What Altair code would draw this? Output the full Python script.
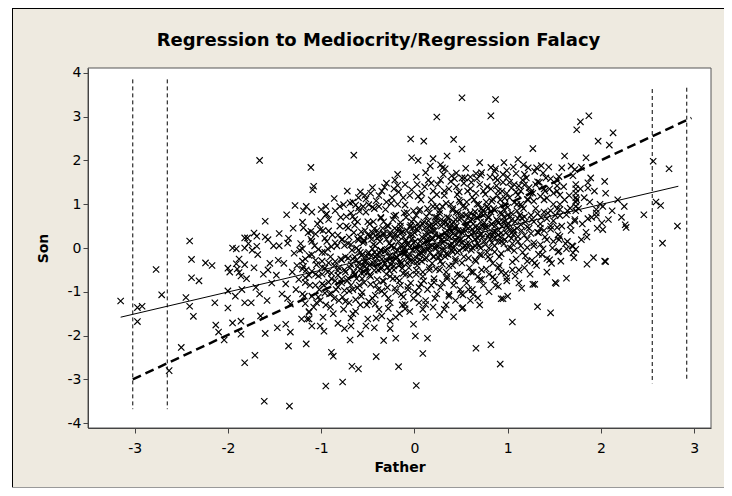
import altair as alt
import pandas as pd

# ---------------- data ----------------
left_tail = [(-3.15,-1.21),(-2.97,-1.36),(-2.92,-1.33),(-2.97,-1.68),(-2.77,-0.49),(-2.71,-1.07),
    (-2.63,-2.80),(-2.50,-2.27),(-2.45,-1.13),(-2.41,-1.33),(-2.37,-1.56),(-2.39,-0.26),(-2.41,0.16),
    (-2.39,-0.68),(-2.31,-0.75),(-2.24,-0.34),(-2.17,-0.40),(-2.14,-1.25),(-2.13,-1.76),(-2.10,-1.92),
    (-2.04,-2.10),(-2.00,-0.46),(-2.00,-0.98),(-2.00,-1.37),(-1.95,-1.71),(-1.91,-0.36),(-1.90,-0.48),
    (-1.88,-0.56),(-1.86,-0.64),(-1.91,-0.02),(-1.86,-1.67),(-1.86,-1.97),(-1.82,-2.62),(-1.82,-1.25),
    (-1.82,-0.38),(-1.82,0.23),(-1.82,0.00)]
lower = [(-1.61,-3.50),(-1.34,-3.61),(-1.71,-2.45),(-1.35,-2.24),(-1.16,-2.19),(-1.60,-1.95),
    (-1.33,-1.92),(-0.95,-3.15),(-0.77,-3.06),(-0.89,-2.38),(-0.87,-2.47),(-0.67,-2.70),(-0.60,-2.76),
    (-0.41,-2.48),(-0.17,-2.71),(-0.69,-2.10),(-0.58,-1.96),(-0.33,-2.11),(-0.20,-2.06),(-0.26,-1.67),
    (-0.26,-1.84),(-0.43,-1.82),(-0.52,-1.78),(-0.68,-1.78),(-0.75,-1.84),(-1.47,-1.82),(-1.38,-1.74),
    (-1.21,-1.62),(-1.13,-1.62),(-1.10,-1.78),(-1.01,-1.78),(-0.97,-1.90),
    (0.02,-3.14),(0.09,-2.41),(0.01,-2.01),(0.14,-2.06),(-0.01,-1.74),(0.66,-2.29),(0.82,-2.21),
    (0.92,-2.65),(1.05,-1.69),(1.32,-1.34),(1.46,-1.48),(1.51,-0.79),(1.27,-0.83),(1.29,-0.83),
    (1.15,-0.92),(0.93,-1.16),(0.95,-1.16),(0.51,-1.38),(0.52,-1.36),(0.42,-1.57),(0.27,-1.53),
    (0.20,-1.35),(0.12,-1.29),(0.05,-1.25),(-0.10,-1.29),(-0.10,-1.39),(0.37,-1.06),(0.50,-1.04),
    (0.52,-1.07),(0.63,-1.06),(0.68,-1.14),(0.72,-0.72),(0.86,-0.72),(0.99,-0.68),(1.08,-0.64),
    (1.29,-0.34),(1.33,-0.14),(1.42,-0.24),(1.45,-0.27),(1.38,-0.02),(1.54,-0.09),
    (1.52,-0.81),(1.63,-0.69),(1.85,-0.37),(1.92,-0.22),(2.04,-0.30),(2.05,-0.31),
    (1.55,-0.07),(1.63,-0.02),(1.70,-0.11),(1.71,-0.22),(1.73,-0.03)]
upper = [(0.51,3.43),(0.87,3.39),(0.24,2.99),(0.82,3.02),(-0.04,2.49),(0.10,2.44),(0.42,2.48),
    (0.51,2.26),(1.27,2.27),(-0.03,2.06),(0.04,2.00),(0.20,2.04),(0.17,1.87),(0.35,2.10),
    (0.30,1.83),(0.33,1.81),(0.45,1.71),(0.51,1.60),(0.60,1.62),(0.71,1.66),(0.82,1.84),(0.87,1.81),
    (0.99,1.77),(1.11,2.02),(1.17,1.90),(1.22,1.83),(1.31,1.83),(1.38,1.71),
    (-1.66,2.00),(-1.11,1.84),(-0.65,2.12),(-1.08,1.41),(-1.09,1.33),(-0.86,1.13),(-0.53,1.20),
    (-0.32,1.39),(-0.21,1.55),(-0.18,1.43),(-1.28,0.97),(-1.37,0.76),(-1.16,0.95),(-1.19,0.85),
    (-1.10,0.82),(-1.00,0.88),(-0.94,0.78),(-0.76,0.99),(-0.69,1.03),(-0.63,0.98),(-0.60,0.91),
    (-0.49,0.99),(-0.41,1.08),(-1.60,0.61),(-1.45,0.33),(-1.72,0.34),(-1.69,0.27),(-1.79,0.23),
    (-1.57,0.19),(-1.36,0.11),(-1.69,0.04),(-1.20,0.59),(-1.19,0.46),(-1.11,0.38),(-1.01,0.42),
    (-1.01,0.62),(-0.95,0.76)]
right_tail = [(1.87,3.02),(1.78,2.88),(1.74,2.70),(2.13,2.63),(1.97,2.44),(2.09,2.35),(2.56,1.98),
    (2.73,1.81),(2.59,1.05),(2.64,0.97),(2.46,0.76),(2.82,0.50),(2.66,0.11),(2.26,0.53),(2.27,0.47),
    (2.01,0.57),(2.02,0.42),(1.86,0.67),(1.95,0.88),(1.95,0.80),(1.95,0.72),(2.04,1.52),(1.86,1.49),
    (1.86,1.37),(1.89,1.60),(1.84,2.06),(1.61,2.10),(1.58,1.83),(1.68,1.87),(1.72,1.79),(1.79,1.84),
    (1.73,1.45),(1.73,1.35),(1.73,1.25),(1.73,1.15),(1.73,1.05),(1.73,0.95),(1.73,0.85),
    (1.61,1.10),(1.67,0.91),(1.63,0.76),(1.72,0.61),(1.67,0.53),(1.56,0.88),(1.84,0.36),(1.79,0.19),
    (1.55,0.19),(1.64,0.15),(1.70,0.04),(1.53,1.55),(1.55,1.63)]
mid_left = [(-1.98,-0.55),(-1.95,0.0),(-1.92,-1.10),(-1.88,-0.25),(-1.85,-0.95),(-1.80,-0.70),
    (-1.78,0.10),(-1.75,-1.25),(-1.72,-0.45),(-1.70,-0.90),(-1.68,-0.15),(-1.65,-1.55),(-1.62,-0.60),
    (-1.60,0.25),(-1.58,-1.20),(-1.55,-0.35),(-1.53,-0.80),(-1.51,0.05),(-1.74,-0.05),(-1.66,-1.05),
    (-1.57,-0.50),
    (-1.48,-0.62),(-1.45,0.05),(-1.42,-1.05),(-1.40,-0.35),(-1.38,-0.82),(-1.35,0.22),(-1.33,-1.28),
    (-1.31,-0.55),(-1.29,-0.12),(-1.27,-0.95),(-1.46,-0.28),(-1.30,0.45),(-1.36,-1.15),(-1.26,-0.40),
    (-1.24,-0.72),(-1.22,0.10),(-1.20,-0.30),(-1.18,-1.10),(-1.16,-0.50),(-1.14,0.35),(-1.12,-0.85),
    (-1.10,-0.15),(-1.08,-1.35),(-1.06,-0.60),(-1.04,0.55),(-1.02,-0.95),(-1.23,-0.05),(-1.17,-0.68),
    (-1.11,0.20),(-1.05,-0.38),(-1.01,-1.20),(-1.19,-0.42),(-1.13,-1.45),(-1.07,0.05)]
core_left = [(-0.99,-0.30),(-0.98,0.40),(-0.97,-0.85),(-0.96,-0.10),(-0.95,-1.30),(-0.94,0.15),
    (-0.93,-0.55),(-0.92,0.65),(-0.91,-1.05),(-0.90,-0.20),(-0.89,-0.70),(-0.88,0.30),(-0.87,-1.50),
    (-0.86,-0.40),(-0.85,0.85),(-0.84,-0.95),(-0.83,0.05),(-0.82,-0.62),(-0.81,-1.20),(-0.80,0.50),
    (-0.79,-0.25),(-0.78,-0.80),(-0.77,0.20),(-0.76,-1.40),(-0.99,-0.60),(-0.93,-0.02),(-0.86,-1.15),
    (-0.81,-0.45),(-0.79,0.70),(-0.95,0.95),
    (-0.74,-0.20),(-0.73,0.50),(-0.72,-0.75),(-0.71,0.10),(-0.70,-1.25),(-0.69,-0.45),(-0.68,0.80),
    (-0.67,-0.05),(-0.66,-0.95),(-0.65,0.35),(-0.64,-0.60),(-0.63,-1.45),(-0.62,0.00),(-0.61,0.60),
    (-0.60,-0.35),(-0.59,-0.85),(-0.58,0.25),(-0.57,-1.10),(-0.56,-0.15),(-0.55,0.95),(-0.54,-0.55),
    (-0.53,0.40),(-0.52,-0.30),(-0.51,-1.30),(-0.74,-0.55),(-0.70,0.25),(-0.66,-0.25),(-0.62,-0.70),
    (-0.58,-0.10),(-0.54,0.15),(-0.72,1.30),(-0.60,1.15),(-0.68,-1.60),(-0.56,-0.70),(-0.64,0.65),
    (-0.49,-0.10),(-0.48,0.55),(-0.47,-0.65),(-0.46,0.20),(-0.45,-1.15),(-0.44,-0.35),(-0.43,0.90),
    (-0.42,0.05),(-0.41,-0.85),(-0.40,0.40),(-0.39,-0.50),(-0.38,-1.40),(-0.37,0.15),(-0.36,0.70),
    (-0.35,-0.25),(-0.34,-0.75),(-0.33,0.30),(-0.32,-1.05),(-0.31,-0.05),(-0.30,1.05),(-0.29,-0.45),
    (-0.28,0.50),(-0.27,-0.20),(-0.26,-1.25),(-0.48,-0.40),(-0.45,0.35),(-0.42,-0.20),(-0.39,-0.95),
    (-0.36,-0.05),(-0.33,0.60),(-0.30,-0.60),(-0.27,0.10),(-0.47,1.25),(-0.41,-1.60),(-0.35,1.30),
    (-0.29,-0.90),(-0.44,0.60),(-0.38,0.25),(-0.32,-0.35),(-0.26,0.35)]
core_mid = [(-0.24,0.05),(-0.23,0.65),(-0.22,-0.50),(-0.21,0.30),(-0.20,-1.00),(-0.19,-0.20),
    (-0.18,1.00),(-0.17,0.15),(-0.16,-0.75),(-0.15,0.50),(-0.14,-0.35),(-0.13,-1.30),(-0.12,0.25),
    (-0.11,0.80),(-0.10,-0.10),(-0.09,-0.60),(-0.08,0.40),(-0.07,-0.95),(-0.06,0.10),(-0.05,1.20),
    (-0.04,-0.30),(-0.03,0.60),(-0.02,-0.05),(-0.01,-1.15),(-0.24,-0.30),(-0.21,0.45),(-0.18,-0.05),
    (-0.15,-0.85),(-0.12,0.05),(-0.09,0.70),(-0.06,-0.45),(-0.03,0.20),(-0.22,1.35),(-0.16,-1.50),
    (-0.10,1.45),(-0.04,-0.80),(-0.20,0.75),(-0.14,0.35),(-0.08,-0.20),(-0.02,0.45),(-0.23,-0.70),
    (-0.17,-0.40),(-0.11,-0.15),(-0.05,0.30),(-0.01,0.85),
    (0.01,0.15),(0.02,0.75),(0.03,-0.40),(0.04,0.40),(0.05,-0.90),(0.06,-0.10),(0.07,1.10),(0.08,0.25),
    (0.09,-0.65),(0.10,0.60),(0.11,-0.25),(0.12,-1.20),(0.13,0.35),(0.14,0.90),(0.15,0.00),(0.16,-0.50),
    (0.17,0.50),(0.18,-0.85),(0.19,0.20),(0.20,1.30),(0.21,-0.20),(0.22,0.70),(0.23,0.05),(0.24,-1.05),
    (0.01,-0.20),(0.04,0.55),(0.07,0.05),(0.10,-0.75),(0.13,0.15),(0.16,0.80),(0.19,-0.35),(0.22,0.30),
    (0.03,1.45),(0.09,-1.40),(0.15,1.55),(0.21,-0.70),(0.05,0.85),(0.11,0.45),(0.17,-0.10),(0.23,0.55),
    (0.02,-0.60),(0.08,-0.30),(0.14,-0.05),(0.20,0.40),(0.24,0.95),
    (0.26,0.25),(0.27,0.85),(0.28,-0.30),(0.29,0.50),(0.30,-0.80),(0.31,0.00),(0.32,1.20),(0.33,0.35),
    (0.34,-0.55),(0.35,0.70),(0.36,-0.15),(0.37,-1.10),(0.38,0.45),(0.39,1.00),(0.40,0.10),(0.41,-0.40),
    (0.42,0.60),(0.43,-0.75),(0.44,0.30),(0.45,1.40),(0.46,-0.10),(0.47,0.80),(0.48,0.15),(0.49,-0.95),
    (0.26,-0.10),(0.29,0.65),(0.32,0.15),(0.35,-0.65),(0.38,0.25),(0.41,0.90),(0.44,-0.25),(0.47,0.40),
    (0.28,1.55),(0.34,-1.30),(0.40,1.65),(0.46,-0.60),(0.30,0.95),(0.36,0.55),(0.42,0.00),(0.48,0.65),
    (0.27,-0.50),(0.33,-0.20),(0.39,0.05),(0.45,0.50),(0.49,1.05)]
core_right = [(0.51,0.35),(0.52,0.95),(0.53,-0.20),(0.54,0.60),(0.55,-0.70),(0.56,0.10),(0.57,1.30),
    (0.58,0.45),(0.59,-0.45),(0.60,0.80),(0.61,-0.05),(0.62,-0.95),(0.63,0.55),(0.64,1.10),(0.65,0.20),
    (0.66,-0.30),(0.67,0.70),(0.68,-0.65),(0.69,0.40),(0.70,1.45),(0.71,0.00),(0.72,0.90),(0.73,0.25),
    (0.74,-0.85),(0.52,0.00),(0.55,0.75),(0.58,0.25),(0.61,-0.55),(0.64,0.35),(0.67,1.00),(0.70,-0.15),
    (0.73,0.50),(0.54,1.60),(0.60,-1.20),(0.66,1.70),(0.72,-0.50),(0.56,1.05),(0.62,0.65),(0.68,0.10),
    (0.74,0.75),
    (0.76,0.45),(0.77,1.05),(0.78,-0.10),(0.79,0.70),(0.80,-0.60),(0.81,0.20),(0.82,1.35),(0.83,0.55),
    (0.84,-0.35),(0.85,0.90),(0.86,0.05),(0.87,-0.85),(0.88,0.65),(0.89,1.20),(0.90,0.30),(0.91,-0.20),
    (0.92,0.80),(0.93,-0.55),(0.94,0.50),(0.95,1.50),(0.96,0.10),(0.97,1.00),(0.98,0.35),(0.99,-0.75),
    (0.78,0.95),(0.81,-0.25),(0.84,0.30),(0.87,1.60),(0.90,-0.45),(0.93,0.15),(0.96,0.70),(0.99,1.25),
    (0.80,0.00),(0.86,1.75),(0.92,1.10),
    (1.01,0.55),(1.02,1.15),(1.03,0.00),(1.04,0.80),(1.05,-0.50),(1.06,0.30),(1.07,1.45),(1.08,0.60),
    (1.09,-0.25),(1.10,1.00),(1.11,0.15),(1.12,-0.80),(1.13,0.75),(1.14,1.30),(1.15,0.40),(1.16,-0.10),
    (1.17,0.90),(1.18,-0.45),(1.19,0.60),(1.20,1.60),(1.21,0.20),(1.22,1.10),(1.23,0.45),(1.24,-0.60),
    (1.03,0.40),(1.09,1.70),(1.15,0.95),(1.21,-0.30),
    (1.26,0.65),(1.27,1.25),(1.28,0.05),(1.30,0.90),(1.31,-0.40),(1.33,0.35),(1.34,1.50),(1.36,0.70),
    (1.37,-0.15),(1.39,1.10),(1.40,0.25),(1.42,-0.55),(1.43,0.80),(1.45,1.35),(1.46,0.50),(1.48,0.00),
    (1.49,1.00),(1.29,1.75),(1.35,0.45),(1.41,1.60),(1.47,-0.35),(1.44,1.85),
    (1.51,0.75),(1.53,1.30),(1.54,0.30),(1.56,1.00),(1.58,0.50),(1.60,1.40),(1.62,0.10),(1.64,0.85),
    (1.66,1.20),(1.68,0.40),(1.70,1.65),(1.72,0.65),(1.74,1.10),(1.57,-0.30),(1.69,0.05),
    (1.76,0.90),(1.78,1.35),(1.80,0.55),(1.82,1.15),(1.85,0.25),(1.88,1.05),(1.90,0.70),(1.93,1.30),
    (1.96,0.45),(1.99,1.00),(2.02,0.95),(2.05,1.25),(2.08,0.65),(2.12,0.85),(2.18,1.10),(2.22,0.70),
    (2.25,0.95)]
ridge = [(-1.20,-0.48),(-1.20,-1.05),(-1.20,-0.02),(-1.17,-0.79),(-1.17,-0.25),(-1.17,-1.27),
    (-1.13,-0.17),(-1.13,-0.62),(-1.13,-1.47),(-1.10,-1.10),(-1.10,0.15),(-1.10,-0.53),
    (-1.06,-0.28),(-1.06,-0.85),(-1.06,0.32),(-1.03,-0.64),(-1.03,-0.03),(-1.03,-1.12),
    (-0.99,-0.10),(-0.99,-0.82),(-0.99,-0.44),(-0.96,-1.03),(-0.96,0.22),(-0.96,-0.46),
    (-0.92,-0.34),(-0.92,-0.78),(-0.92,0.39),(-0.89,-0.57),(-0.89,0.03),(-0.89,-1.04),
    (-0.85,-0.31),(-0.85,-0.75),(-0.85,0.12),(-0.82,-0.89),(-0.82,0.29),(-0.82,-0.52),
    (-0.78,-0.27),(-0.78,-0.71),(-0.78,0.19),(-0.75,-0.50),(-0.75,0.06),(-0.75,-0.97),
    (-0.71,-0.23),(-0.71,-0.69),(-0.71,0.46),(-0.68,-0.85),(-0.68,0.08),(-0.68,-0.38),
    (-0.64,-0.20),(-0.64,-0.62),(-0.64,0.52),(-0.61,-0.43),(-0.61,0.21),(-0.61,-0.91),
    (-0.57,-0.17),(-0.57,-0.57),(-0.57,0.37),(-0.54,-0.79),(-0.54,0.18),(-0.54,-0.31),
    (-0.50,-0.13),(-0.50,-0.55),(-0.50,0.60),(-0.47,-0.36),(-0.47,0.27),(-0.47,-0.83),
    (-0.43,-0.10),(-0.43,-0.51),(-0.43,0.44),(-0.40,-0.72),(-0.40,0.23),(-0.40,-0.24),
    (-0.36,-0.06),(-0.36,-0.48),(-0.36,0.68),(-0.33,-0.29),(-0.33,0.34),(-0.33,-0.76),
    (-0.29,-0.03),(-0.29,-0.44),(-0.29,0.51),(-0.26,-0.65),(-0.26,0.30),(-0.26,-0.17),
    (-0.22,0.01),(-0.22,-0.41),(-0.22,0.73),(-0.19,-0.22),(-0.19,0.41),(-0.19,-0.69),
    (-0.15,0.05),(-0.15,-0.37),(-0.15,0.58),(-0.12,-0.58),(-0.12,0.37),(-0.12,-0.10),
    (-0.08,0.08),(-0.08,-0.34),(-0.08,0.81),(-0.05,-0.15),(-0.05,0.48),(-0.05,-0.62),
    (-0.01,0.12),(-0.01,-0.30),(-0.01,0.65),(0.02,-0.51),(0.02,0.44),(0.02,-0.03),
    (0.06,0.15),(0.06,-0.27),(0.06,0.88),(0.09,-0.08),(0.09,0.55),(0.09,-0.55),
    (0.13,0.19),(0.13,-0.23),(0.13,0.72),(0.16,-0.44),(0.16,0.51),(0.16,0.04),
    (0.20,0.22),(0.20,-0.20),(0.20,0.95),(0.23,-0.01),(0.23,0.62),(0.23,-0.48),
    (0.27,0.26),(0.27,-0.16),(0.27,0.79),(0.30,-0.37),(0.30,0.58),(0.30,0.11),
    (0.34,0.29),(0.34,-0.13),(0.34,1.02),(0.37,0.06),(0.37,0.69),(0.37,-0.41),
    (0.41,0.33),(0.41,-0.09),(0.41,0.86),(0.44,-0.30),(0.44,0.65),(0.44,0.18),
    (0.48,0.36),(0.48,-0.06),(0.48,1.09),(0.51,0.13),(0.51,0.76),(0.51,-0.34),
    (0.55,0.40),(0.55,-0.02),(0.55,0.93),(0.58,-0.23),(0.58,0.72),(0.58,0.25),
    (0.62,0.43),(0.62,0.01),(0.62,1.16),(0.65,0.20),(0.65,0.83),(0.65,-0.27),
    (0.69,0.47),(0.69,0.05),(0.69,1.00),(0.72,-0.16),(0.72,0.79),(0.72,0.32),
    (0.76,0.50),(0.76,0.08),(0.76,1.23),(0.79,0.27),(0.79,0.90),(0.79,-0.20),
    (0.83,0.54),(0.83,0.12),(0.83,1.07),(0.86,-0.09),(0.86,0.86),(0.86,0.39),
    (0.90,0.57),(0.90,0.15),(0.90,1.30),(0.93,0.34),(0.93,0.97),(0.93,-0.13),
    (0.97,0.61),(0.97,0.19),(0.97,1.14),(1.00,-0.02),(1.00,0.93),(1.00,0.46),
    (1.04,0.64),(1.04,0.22),(1.04,1.37),(1.07,0.41),(1.07,1.04),(1.07,-0.06),
    (1.11,0.68),(1.11,0.26),(1.11,1.21),(1.14,0.05),(1.14,1.00),(1.14,0.53),
    (1.18,0.71),(1.18,0.29),(1.18,1.44),(1.21,0.48),(1.21,1.11),(1.21,0.01),
    (1.25,0.75),(1.25,0.33),(1.25,1.28),(1.28,0.12),(1.28,1.07),(1.28,0.60),
    (1.32,0.78),(1.32,0.36),(1.32,1.51),(1.35,0.55),(1.35,1.18),(1.35,0.08),
    (1.39,0.82),(1.39,0.40),(1.39,1.35),(1.42,0.19),(1.42,1.14),(1.42,0.67),
    (1.46,0.85),(1.46,0.43),(1.46,1.58),(1.49,0.62),(1.49,1.25),(1.49,0.15),
    (1.53,0.89),(1.53,0.47),(1.53,1.42),(1.56,0.26),(1.56,1.21),(1.56,0.74)]
spread = [(-0.80,0.95),(-0.77,-1.12),(-0.73,0.72),(-0.70,-0.98),(-0.66,1.05),(-0.63,-1.18),
    (-0.59,0.84),(-0.56,-1.02),(-0.52,1.12),(-0.49,-1.22),(-0.45,0.93),(-0.42,-1.08),(-0.38,1.20),
    (-0.35,-0.98),(-0.31,0.88),(-0.28,-1.15),(-0.24,1.15),(-0.21,-0.92),(-0.17,1.28),(-0.14,-1.06),
    (-0.10,0.98),(-0.07,-0.88),(-0.03,1.33),(0.00,-1.00),(0.04,1.18),(0.07,-0.82),(0.11,1.40),
    (0.14,-0.95),(0.18,1.10),(0.21,-0.78),(0.25,1.45),(0.28,-0.90),(0.32,1.30),(0.35,-0.70),
    (0.39,1.52),(0.42,-0.85),(0.46,1.22),(0.49,-0.62),(0.53,1.48),(0.56,-0.80),(0.60,1.35),
    (0.63,-0.55),(0.67,1.58),(0.70,-0.72),(0.74,1.30),(0.77,-0.48),(0.81,1.62),(0.84,-0.66),
    (0.88,1.42),(0.91,-0.40),(0.95,1.68),(0.98,-0.58),(1.02,1.50),(1.05,-0.32),(1.09,1.28),
    (1.12,-0.50),(1.16,1.55),(1.19,-0.18),(1.23,1.38),(1.26,-0.28),
    (-0.60,-0.05),(-0.50,0.30),(-0.40,-0.15),(-0.30,0.20),(-0.20,-0.25),(-0.10,0.15),(0.00,0.35),
    (0.10,-0.05),(0.20,0.50),(0.30,0.28),(0.40,0.55),(0.50,0.20),(0.60,0.62),(0.70,0.30),(0.80,0.70),
    (0.90,0.40),(1.00,0.75),(1.10,0.45),(-0.55,-0.40),(-0.45,-0.02),(-0.35,-0.45),(-0.25,0.05),
    (-0.15,-0.30),(-0.05,0.02),(0.05,-0.15),(0.15,0.32),(0.25,0.05),(0.35,0.40),(0.45,0.10),
    (0.55,0.48),(0.65,0.05),(0.75,0.58),(0.85,0.22),(0.95,0.60),(1.05,0.10),(1.15,0.68)]
dense_center = [(-0.62,-0.28),(-0.58,-0.48),(-0.55,0.12),(-0.51,-0.20),(-0.48,-0.62),(-0.44,0.08),
    (-0.41,-0.33),(-0.37,-0.12),(-0.34,0.45),(-0.30,-0.28),(-0.27,-0.52),(-0.23,0.22),(-0.20,-0.10),
    (-0.16,0.42),(-0.13,-0.46),(-0.09,0.18),(-0.06,-0.22),(-0.02,0.30),(0.01,0.02),(0.05,0.48),
    (0.08,-0.12),(0.12,0.28),(0.15,0.62),(0.19,0.05),(0.22,0.40),(0.26,-0.22),(0.29,0.18),(0.33,0.58),
    (0.36,0.28),(0.40,-0.05),(0.43,0.45),(0.47,0.22),(0.50,0.68),(0.54,0.05),(0.57,0.55),(0.61,0.32),
    (0.64,0.75),(0.68,0.22),(0.71,0.60),(0.75,0.15),(0.78,0.48),(0.82,0.82),(0.85,0.35),(0.89,0.62),
    (0.92,0.25),(0.96,0.88),(0.99,0.52),(1.03,0.72),(1.06,0.38),(1.10,0.85),
    (-0.65,-0.55),(-0.60,0.18),(-0.53,-0.42),(-0.46,-0.18),(-0.39,0.32),(-0.32,-0.08),(-0.25,-0.38),
    (-0.18,0.28),(-0.11,-0.02),(-0.04,0.52),(0.03,-0.32),(0.10,0.12),(0.17,0.38),(0.24,0.70),
    (0.31,-0.05),(0.38,0.42),(0.45,0.82),(0.52,0.40),(0.59,0.10),(0.66,0.48),(0.73,0.85),(0.80,0.32),
    (0.87,0.52),(0.94,0.78),(1.01,0.28)]
upper_band = [(0.02,1.62),(0.08,1.25),(0.12,1.72),(0.18,1.48),(0.24,1.22),(0.31,1.68),(0.37,1.35),
    (0.43,1.58),(0.48,1.28),(0.55,1.82),(0.61,1.50),(0.66,1.25),(0.72,1.72),(0.78,1.40),(0.84,1.12),
    (0.89,1.55),(0.94,1.30),(1.00,1.62),(1.06,1.85),(1.12,1.42),(1.18,1.68),(1.24,1.25),(1.30,1.45),
    (1.36,1.88),(1.40,1.30),(-0.12,1.15),(-0.18,1.68),(-0.25,1.02),(-0.30,1.48),(-0.38,0.95),
    (-0.45,1.38),(-0.52,0.82),(-0.58,1.28),(-0.66,0.72),(0.70,1.95),(0.96,1.95),(0.28,1.90)]
lower_band = [(-1.15,-1.62),(-1.05,-1.25),(-0.98,-1.58),(-0.90,-1.35),(-0.82,-1.72),(-0.74,-1.22),
    (-0.66,-1.50),(-0.58,-1.30),(-0.50,-1.62),(-0.42,-1.28),(-0.35,-1.55),(-0.28,-1.38),(-0.20,-1.58),
    (-0.12,-1.12),(-0.05,-1.45),(0.04,-1.05),(0.12,-1.58),(0.22,-1.15),(0.32,-1.40),(0.44,-1.20),
    (0.58,-0.95),(0.70,-1.30),(0.80,-1.00),(0.90,-0.88),(1.00,-1.10)]

# fitted regression line (solid) and identity line (dashed)
fit_father = [-3.15, 2.83]
fit_son = [-1.58, 1.41]
ident_father = [-3.02, 2.97]
ident_son = [-3.00, 2.97]
# vertical reference lines
vline_x = [-3.02, -2.65, 2.55, 2.92]
vline_top = [3.85, 3.85, 3.63, 3.66]
vline_bottom = [-3.68, -3.68, -3.09, -3.02]

x_ticks = [-3, -2, -1, 0, 1, 2, 3]
y_ticks = [-4, -3, -2, -1, 0, 1, 2, 3, 4]
title_text = "Regression to Mediocrity/Regression Falacy"

# ---------------- chart ----------------
all_pts = (left_tail + lower + upper + right_tail + mid_left + core_left + core_mid + core_right
           + ridge + spread + dense_center + upper_band + lower_band)
pts = pd.DataFrame({"Father": [p[0] for p in all_pts], "Son": [p[1] for p in all_pts]})
fit_df = pd.DataFrame({"Father": fit_father, "Son": fit_son})
ident_df = pd.DataFrame({"Father": ident_father, "Son": ident_son})
vl_df = pd.DataFrame({"x": vline_x, "top": vline_top, "bottom": vline_bottom})

FONT = "DejaVu Sans"
W, H = 623, 360
PAD_L, PAD_T, PAD_R, PAD_B = 80, 60, 13, 60
xs = alt.Scale(domain=[-3.5, 3.18], nice=False, zero=False)
ys = alt.Scale(domain=[-4.11, 4.11], nice=False, zero=False)

common = dict(grid=False, tickSize=5, labelFontSize=14, labelFont=FONT, labelColor="black",
              titleFont=FONT, titleFontSize=14, titleFontWeight="bold", titleColor="black",
              titleBaseline="middle", titleAlign="center", domainColor="#444",
              tickColor="#444", labelExpr="'' + datum.value", zindex=1)
x_axis = alt.Axis(values=x_ticks, title="Father", labelPadding=8, titleX=W / 2, titleY=39, **common)
y_axis = alt.Axis(values=y_ticks, title="Son", labelPadding=2, titleX=-45, titleY=H / 2,
                  titleAngle=270, **common)

one = pd.DataFrame({"t": [title_text]})
frame = alt.Chart(one).mark_rect(fill="#EEEAE0", strokeWidth=0).encode(
    x=alt.value(-76), x2=alt.value(W + PAD_R), y=alt.value(-PAD_T), y2=alt.value(H + PAD_B))
frame_left = alt.Chart(one).mark_rule(color="black", strokeWidth=1).encode(
    x=alt.value(-75.5), y=alt.value(-PAD_T), y2=alt.value(H + PAD_B))
frame_top = alt.Chart(one).mark_rule(color="black", strokeWidth=1).encode(
    x=alt.value(-76), x2=alt.value(W + PAD_R), y=alt.value(-PAD_T + 0.5))
frame_bottom = alt.Chart(one).mark_rule(color="#999", strokeWidth=1).encode(
    x=alt.value(-76), x2=alt.value(W + PAD_R), y=alt.value(H + PAD_B - 0.5))
panel = alt.Chart(one).mark_rect(fill="white", stroke="#555", strokeWidth=1).encode(
    x=alt.value(0), x2=alt.value(W), y=alt.value(0), y2=alt.value(H))
title = alt.Chart(one).mark_text(font=FONT, fontSize=18, fontWeight="bold", color="black",
                                 align="center", baseline="middle").encode(
    text="t:N", x=alt.value(W / 2 - 21), y=alt.value(-27))

scatter = alt.Chart(pts).mark_point(
    shape="M-1,-1L1,1M-1,1L1,-1", filled=False, color="black", size=40, strokeWidth=1.15, opacity=1
).encode(x=alt.X("Father:Q", scale=xs, axis=x_axis), y=alt.Y("Son:Q", scale=ys, axis=y_axis))

fit = alt.Chart(fit_df).mark_line(color="black", strokeWidth=1).encode(
    x=alt.X("Father:Q", scale=xs), y=alt.Y("Son:Q", scale=ys))

ident = alt.Chart(ident_df).mark_line(color="black", strokeWidth=2.5, strokeDash=[9, 5]).encode(
    x=alt.X("Father:Q", scale=xs), y=alt.Y("Son:Q", scale=ys))

vlines = alt.Chart(vl_df).mark_rule(color="black", strokeWidth=1, strokeDash=[4, 3]).encode(
    x=alt.X("x:Q", scale=xs), y=alt.Y("top:Q", scale=ys), y2="bottom:Q")

chart = alt.layer(frame, frame_left, frame_top, frame_bottom, panel, title,
                  scatter, fit, ident, vlines).properties(
    width=W, height=H,
    autosize=alt.AutoSizeParams(type="none"),
    padding={"left": PAD_L, "top": PAD_T, "right": PAD_R, "bottom": PAD_B},
    background="white",
).configure_view(strokeWidth=0)

chart.save("out.html", embed_options={"renderer": "svg", "actions": False})
